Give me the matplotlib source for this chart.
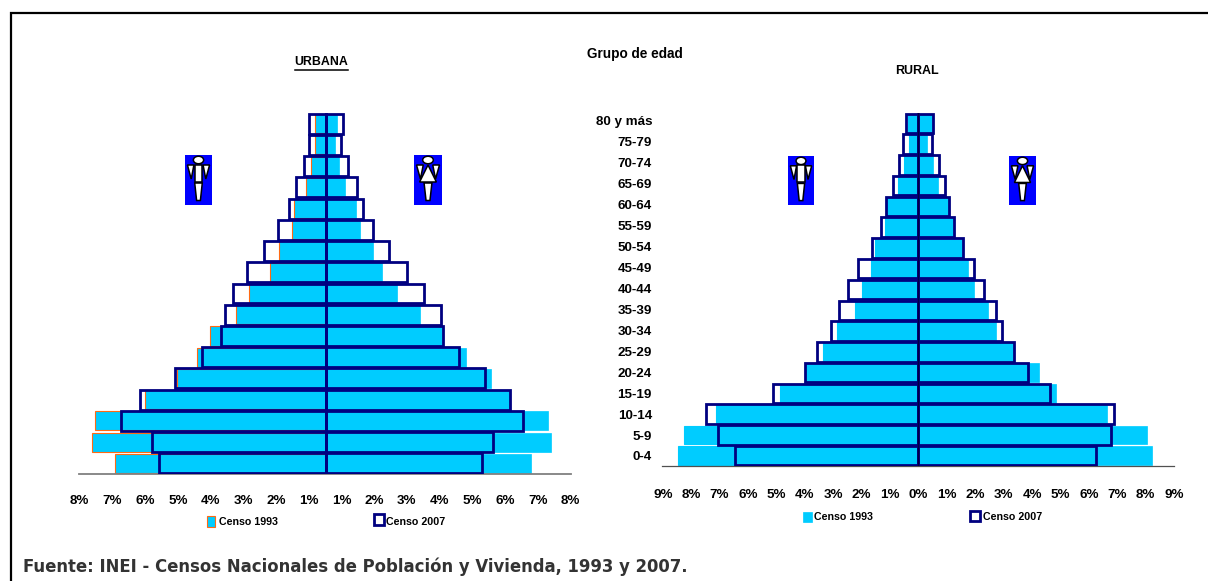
import numpy as np
import matplotlib
matplotlib.use("Agg")
import matplotlib.pyplot as plt
from matplotlib.patches import Rectangle, Ellipse, Polygon

plt.rcParams['font.family'] = ['Liberation Sans', 'DejaVu Sans']
plt.rcParams['font.weight'] = 'bold'

age_groups = ["0-4", "5-9", "10-14", "15-19", "20-24", "25-29", "30-34", "35-39", "40-44",
              "45-49", "50-54", "55-59", "60-64", "65-69", "70-74", "75-79", "80 y más"]

# listed from the youngest group to the oldest, percent of population
urb_male_1993 = [6.88, 7.64, 7.54, 5.92, 4.87, 4.21, 3.79, 2.94, 2.51, 1.82, 1.53, 1.10, 1.03, 0.64, 0.48, 0.35, 0.35]
urb_female_1993 = [6.70, 7.37, 7.26, 6.02, 5.41, 4.57, 3.81, 3.09, 2.32, 1.82, 1.53, 1.12, 1.00, 0.64, 0.42, 0.31, 0.37]
urb_male_2007 = [5.47, 5.67, 6.70, 6.09, 4.94, 4.06, 3.43, 3.31, 3.03, 2.58, 2.01, 1.56, 1.19, 0.96, 0.73, 0.55, 0.55]
urb_female_2007 = [5.11, 5.46, 6.45, 6.02, 5.20, 4.35, 3.84, 3.77, 3.21, 2.65, 2.08, 1.55, 1.23, 1.03, 0.72, 0.51, 0.57]

rur_male_1993 = [8.46, 8.25, 7.14, 4.88, 4.00, 3.36, 2.86, 2.23, 1.99, 1.67, 1.54, 1.17, 1.11, 0.72, 0.51, 0.33, 0.38]
rur_female_1993 = [8.22, 8.05, 6.65, 4.84, 4.23, 3.36, 2.74, 2.44, 1.95, 1.74, 1.52, 1.21, 1.06, 0.69, 0.51, 0.30, 0.47]
rur_male_2007 = [6.46, 7.06, 7.47, 5.12, 4.01, 3.56, 3.07, 2.81, 2.48, 2.11, 1.63, 1.33, 1.14, 0.89, 0.68, 0.56, 0.43]
rur_female_2007 = [6.25, 6.78, 6.88, 4.63, 3.85, 3.36, 2.95, 2.74, 2.30, 1.95, 1.56, 1.26, 1.06, 0.93, 0.73, 0.48, 0.52]

urb_tick_labels = ["8%", "7%", "6%", "5%", "4%", "3%", "2%", "1%", "1%", "2%", "3%", "4%", "5%", "6%", "7%", "8%"]
rur_tick_labels = ["9%", "8%", "7%", "6%", "5%", "4%", "3%", "2%", "1%", "0%", "1%", "2%", "3%", "4%", "5%", "6%", "7%", "8%", "9%"]

CYAN = "#00CCFF"
NAVY = "#000080"
ORANGE = "#FF6A13"
W, H = 1208, 581
fig = plt.figure(figsize=(W / 100, H / 100), dpi=100, facecolor="white")


def add_axes_px(x0, x1, ytop, ybot, **kw):
    return fig.add_axes([x0 / W, 1 - ybot / H, (x1 - x0) / W, (ybot - ytop) / H], **kw)


def pyramid(ax, m93, f93, m07, f07, left_edge, center_lw, line_color):
    y = np.arange(len(age_groups))
    ax.barh(y, -np.array(m93), height=0.9, color=CYAN, edgecolor=left_edge, linewidth=0.8, zorder=2)
    ax.barh(y, f93, height=0.9, color=CYAN, edgecolor=CYAN, linewidth=0.5, zorder=2)
    ax.barh(y, -np.array(m07), height=0.94, facecolor="none", edgecolor=NAVY, linewidth=2.0, zorder=3)
    ax.barh(y, f07, height=0.94, facecolor="none", edgecolor=NAVY, linewidth=2.0, zorder=3)
    ax.axvline(0, color=line_color, lw=center_lw, zorder=4)
    ax.set_ylim(-0.5, len(age_groups) - 0.5)
    ax.set_yticks([])
    for s in ("top", "left", "right"):
        ax.spines[s].set_visible(False)
    ax.patch.set_alpha(0)


# URBANA
cx, unit = 326, 30.6
ax_u = add_axes_px(79.5, 570.5, 113, 474)
pyramid(ax_u, urb_male_1993, urb_female_1993, urb_male_2007, urb_female_2007, ORANGE, 1.8, NAVY)
ax_u.set_xlim((79.5 - cx) / unit, (570.5 - cx) / unit)
ax_u.set_xticks(np.linspace(-8.05, 8.0, len(urb_tick_labels)))
ax_u.set_xticklabels(urb_tick_labels, fontsize=9.6, fontweight="bold")
ax_u.tick_params(axis="x", length=0, pad=15)
ax_u.spines["bottom"].set_color("#808080")
ax_u.spines["bottom"].set_linewidth(1.3)

# RURAL
cx, unit = 918.5, 28.41
ax_r = add_axes_px(662, 1174, 113, 466)
pyramid(ax_r, rur_male_1993, rur_female_1993, rur_male_2007, rur_female_2007, CYAN, 1.0, "#000040")
ax_r.set_xlim((662 - cx) / unit, (1174 - cx) / unit)
ax_r.set_xticks(np.arange(-9, 10))
ax_r.set_xticklabels(rur_tick_labels, fontsize=9.6, fontweight="bold")
ax_r.tick_params(axis="x", length=0, pad=16.5)
ax_r.spines["bottom"].set_color("#505050")
ax_r.spines["bottom"].set_linewidth(0.9)

# overlay in pixel coordinates for annotation furniture
ov = fig.add_axes([0, 0, 1, 1], zorder=10)
ov.set_xlim(0, W)
ov.set_ylim(H, 0)
ov.axis("off")
ov.patch.set_alpha(0)

ov.plot([11, 11, W], [H, 13, 13], color="black", lw=1.6, solid_joinstyle="miter")

ov.text(635, 54, "Grupo de edad", ha="center", va="center", fontsize=9.8, fontweight="bold", color="black")
ov.text(321, 62, "URBANA", ha="center", va="center", fontsize=8.9, fontweight="bold", color="black")
ov.plot([295, 348], [70, 70], color="black", lw=1.1)
ov.text(916.5, 71, "RURAL", ha="center", va="center", fontsize=9, fontweight="bold", color="black")

for i, lab in enumerate(age_groups):
    ypx = 457.5 - i * (456 - 121) / (len(age_groups) - 1)
    ov.text(652, ypx, lab, ha="right", va="center", fontsize=9.6, fontweight="bold", color="black")


def icon(x0, x1, y0, y1, woman):
    ov.add_patch(Rectangle((x0, y0), x1 - x0, y1 - y0, color="#0000FF", lw=0))
    fx = lambda v: x0 + v * (x1 - x0)
    fy = lambda v: y0 + v * (y1 - y0)
    st = dict(facecolor="white", edgecolor="black", linewidth=1.1)
    ov.add_patch(Ellipse((fx(0.5), fy(0.10)), (x1 - x0) * 0.38, (y1 - y0) * 0.15, **st))
    for tri in ([(0.09, 0.20), (0.33, 0.20), (0.23, 0.48)], [(0.67, 0.20), (0.91, 0.20), (0.77, 0.48)]):
        ov.add_patch(Polygon([(fx(a), fy(b)) for a, b in tri], **st))
    if woman:
        ov.add_patch(Polygon([(fx(a), fy(b)) for a, b in [(0.5, 0.2), (0.2, 0.54), (0.8, 0.54)]], **st))
    else:
        ov.add_patch(Rectangle((fx(0.36), fy(0.19)), (x1 - x0) * 0.28, (y1 - y0) * 0.35, **st))
    ov.add_patch(Polygon([(fx(a), fy(b)) for a, b in [(0.36, 0.56), (0.64, 0.56), (0.57, 0.91), (0.43, 0.91)]], **st))


icon(185, 212, 155, 205, False)
icon(414, 442, 155, 205, True)
icon(788, 814, 156, 205, False)
icon(1009, 1036, 156, 205, True)

legend_font = dict(va="center", ha="left", fontsize=7.7, fontweight="bold", color="black")
ov.add_patch(Rectangle((207, 516), 8, 11, facecolor=CYAN, edgecolor=ORANGE, lw=0.8))
ov.text(219, 522, "Censo 1993", **legend_font)
ov.add_patch(Rectangle((374, 514), 10, 11, facecolor="white", edgecolor=NAVY, lw=2.0))
ov.text(386, 522, "Censo 2007", **legend_font)
ov.add_patch(Rectangle((803, 512), 9, 10, facecolor=CYAN, edgecolor=CYAN, lw=0.5))
ov.text(814, 517, "Censo 1993", **legend_font)
ov.add_patch(Rectangle((970, 511), 10, 10, facecolor="white", edgecolor=NAVY, lw=2.0))
ov.text(983, 517, "Censo 2007", **legend_font)

ov.text(23, 567, "Fuente: INEI - Censos Nacionales de Población y Vivienda, 1993 y 2007.",
        ha="left", va="center", fontsize=11.88, fontweight="bold", family="DejaVu Sans", color="#333333")

fig.savefig("out.png", dpi=100)
